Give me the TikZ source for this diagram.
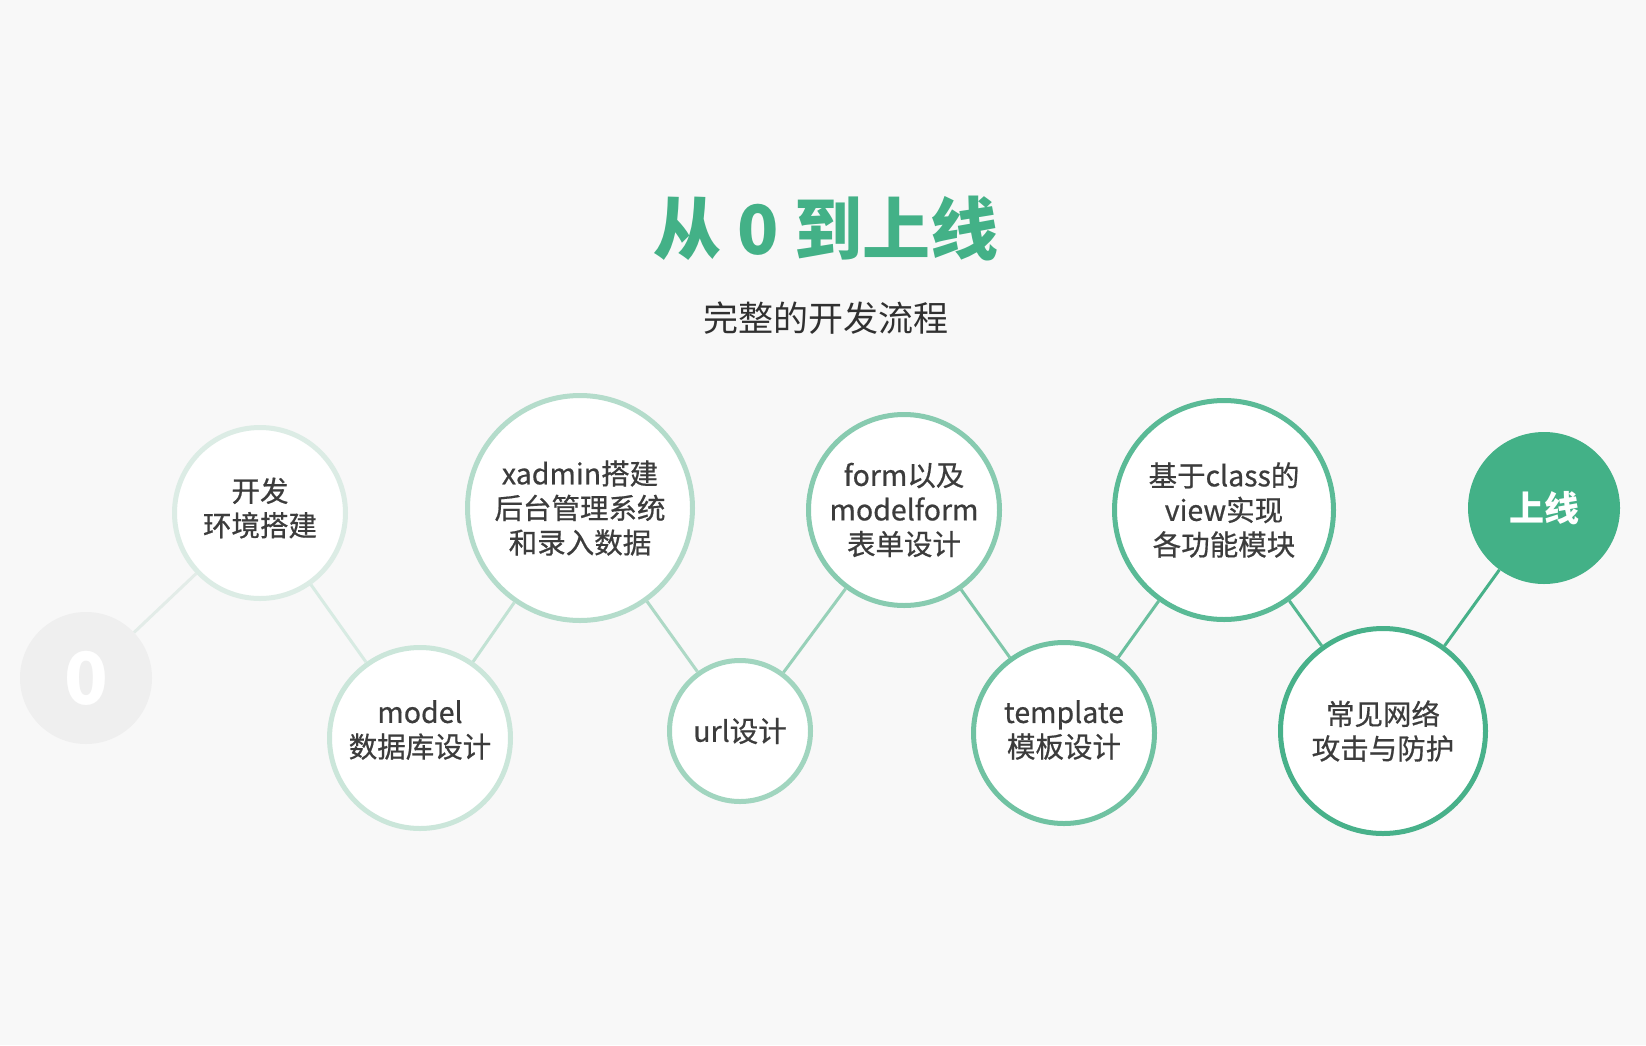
\documentclass[tikz,border=0pt]{standalone}
\usepackage{fontspec}
\setmainfont{Noto Sans CJK SC}
\newfontfamily\bubfont[FakeBold=0.6]{Noto Sans CJK SC}
\definecolor{bg}{HTML}{F8F8F8}
\definecolor{zerof}{HTML}{EFEFEF}
\definecolor{txt}{HTML}{3C3C3C}
\definecolor{green}{HTML}{43B187}
\definecolor{ca}{HTML}{DCECE5}
\definecolor{cb}{HTML}{CBE6DA}
\definecolor{cc}{HTML}{B4DCCB}
\definecolor{cd}{HTML}{A1D5BF}
\definecolor{ce}{HTML}{88CBB0}
\definecolor{cf}{HTML}{70C2A2}
\definecolor{cg}{HTML}{5ABA96}
\definecolor{ch}{HTML}{48B18A}
\definecolor{l0}{HTML}{E3ECE8}
\definecolor{l1}{HTML}{D8EBE3}
\definecolor{l2}{HTML}{C2E2D4}
\definecolor{l3}{HTML}{AED9C6}
\definecolor{l4}{HTML}{98D1B9}
\definecolor{l5}{HTML}{80C7AA}
\definecolor{l6}{HTML}{6ABF9E}
\definecolor{l7}{HTML}{55B791}
\definecolor{l8}{HTML}{47B189}
\begin{document}
\begin{tikzpicture}[x=1pt,y=-1pt,
  bubtxt/.style={align=center,font=\bubfont\fontsize{28.5}{34.5}\selectfont,text=txt,inner sep=0pt},
  bub/.style={circle,draw,line width=5pt,fill=white,inner sep=0pt,bubtxt},
  link/.style={line width=3pt}]
\fill[bg] (0,0) rectangle (1646,1045);
\useasboundingbox (0,0) rectangle (1646,1045);
\node[text=green,font=\fontsize{68}{68}\selectfont\bfseries] (title) at (826,229) {从 0 到上线};
\node[text=txt!80!black,font=\fontsize{35}{35}\selectfont] (sub) at (826,318) {完整的开发流程};
\node[circle,fill=zerof,minimum size=132pt,inner sep=0pt,
  font=\fontsize{72}{72}\selectfont\bfseries,text=white] (z) at (86,678) {0};
\node[bub,draw=ca,minimum size=171pt,
  label={[bubtxt,yshift=5pt]center:开发\\环境搭建}] (a) at (260,513) {};
\node[bub,draw=cb,minimum size=181pt,
  label={[bubtxt,yshift=8pt]center:model\\数据库设计}] (b) at (420,738) {};
\node[bub,draw=cc,minimum size=225pt] (c) at (580,508) {xadmin搭建\\后台管理系统\\和录入数据};
\node[bub,draw=cd,minimum size=141pt] (d) at (740,731) {url设计};
\node[bub,draw=ce,minimum size=191pt] (e) at (904,510) {form以及\\modelform\\表单设计};
\node[bub,draw=cf,minimum size=181pt,
  label={[bubtxt,yshift=3pt]center:template\\模板设计}] (f) at (1064,733) {};
\node[bub,draw=cg,minimum size=219pt] (g) at (1224,510) {基于class的\\view实现\\各功能模块};
\node[bub,draw=ch,minimum size=205pt] (h) at (1383,731) {常见网络\\攻击与防护};
\node[circle,fill=green,minimum size=152pt,inner sep=0pt,
  font=\fontsize{35}{35}\selectfont\bfseries,text=white] (i) at (1544,508) {上线};
\draw[link,l0] (z) -- (a);
\draw[link,l1] (a) -- (b);
\draw[link,l2] (b) -- (c);
\draw[link,l3] (c) -- (d);
\draw[link,l4] (d) -- (e);
\draw[link,l5] (e) -- (f);
\draw[link,l6] (f) -- (g);
\draw[link,l7] (g) -- (h);
\draw[link,l8] (h) -- (i);
\end{tikzpicture}
\end{document}
